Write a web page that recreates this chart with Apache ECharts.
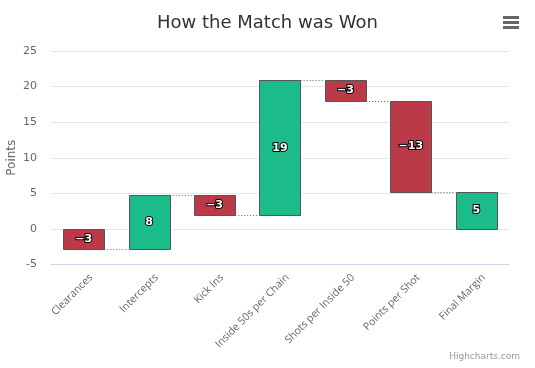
<!DOCTYPE html>
<html>
<head>
<meta charset="utf-8">
<script src="https://cdn.jsdelivr.net/npm/echarts@6/dist/echarts.min.js"></script>
<style>html,body{margin:0;padding:0;background:#fff;}#c{width:535px;height:368px;}</style>
</head>
<body>
<div id="c"></div>
<script>
var categories = ['Clearances', 'Intercepts', 'Kick Ins', 'Inside 50s per Chain', 'Shots per Inside 50', 'Points per Shot', 'Final Margin'];
var changes = [-2.8, 7.6, -2.9, 19.0, -2.9, -12.8, null]; // null = sum column
var yTicks = { min: -5, max: 25, interval: 5 };
var upColor = '#1bbc89';
var downColor = '#bb3a47';
var FONT = '"DejaVu Sans", sans-serif';
var XFONT = '"Open Sans", "DejaVu Sans", sans-serif';

var bases = [], heights = [], signed = [], levels = [];
var running = 0;
for (var i = 0; i < changes.length; i++) {
  var v = changes[i];
  var start, end;
  if (v === null) { start = 0; end = running; v = running; }
  else { start = running; end = running + v; running = end; }
  bases.push(Math.min(start, end));
  heights.push(Math.abs(end - start));
  signed.push(v);
  levels.push(end);
}
var barData = categories.map(function (c, i) {
  var lo = bases[i], hi = bases[i] + heights[i];
  return [i, lo, hi, signed[i]];
});
var connData = [];
for (var j = 0; j < categories.length - 1; j++) connData.push([j, levels[j]]);

var chart = echarts.init(document.getElementById('c'), null, { renderer: 'canvas' });
chart.setOption({
  animation: false,
  backgroundColor: '#ffffff',
  title: {
    text: 'How the Match was Won', left: 'center', top: 9,
    textStyle: { fontFamily: FONT, fontSize: 18, fontWeight: 'normal', color: '#333333' }
  },
  grid: { left: 51, right: 26, top: 51, bottom: 103.5, containLabel: false, outerBoundsMode: 'none' },
  xAxis: {
    type: 'category', data: categories,
    axisLine: { show: true, onZero: false, lineStyle: { color: '#ccd6eb' } },
    axisTick: { show: false },
    axisLabel: { rotate: 45, interval: 0, margin: 4, verticalAlign: 'top', padding: [5, 0, 0, 0],
      color: '#666666', fontSize: 10.5, fontFamily: XFONT }
  },
  yAxis: {
    type: 'value', min: yTicks.min, max: yTicks.max, interval: yTicks.interval,
    name: 'Points', nameLocation: 'middle', nameGap: 33, nameMoveOverlap: false,
    nameTextStyle: { color: '#666666', fontSize: 12, fontFamily: FONT },
    axisLine: { show: false }, axisTick: { show: false },
    axisLabel: { color: '#666666', fontSize: 11, fontFamily: FONT, margin: 14 },
    splitLine: { lineStyle: { color: '#e6e6e6' } }
  },
  series: [
    {
      type: 'custom',
      data: connData,
      z: 1,
      renderItem: function (params, api) {
        var idx = api.value(0), lvl = api.value(1);
        var bw = api.size([1, 0])[0];
        var half = bw * 0.63 / 2;
        var p1 = api.coord([idx, lvl]);
        var p2 = api.coord([idx + 1, lvl]);
        return {
          type: 'line',
          shape: { x1: p1[0] + half, y1: Math.round(p1[1]) + 0.5, x2: p2[0] - half, y2: Math.round(p2[1]) + 0.5 },
          style: { stroke: '#666666', lineWidth: 1, lineDash: [1, 2] }
        };
      }
    },
    {
      type: 'custom',
      data: barData,
      z: 2,
      encode: { x: 0, y: [1, 2] },
      renderItem: function (params, api) {
        var idx = api.value(0), lo = api.value(1), hi = api.value(2), val = api.value(3);
        var bw = api.size([1, 0])[0] * 0.63;
        var pLo = api.coord([idx, lo]);
        var pHi = api.coord([idx, hi]);
        var x = Math.round(pLo[0] - bw / 2) + 0.5;
        var y = Math.round(pHi[1]) + 0.5;
        var h = Math.round(pLo[1]) - Math.round(pHi[1]);
        return {
          type: 'group',
          children: [
            {
              type: 'rect',
              shape: { x: x, y: y, width: Math.round(bw), height: h },
              style: { fill: val >= 0 ? upColor : downColor, stroke: '#555555', lineWidth: 1 }
            },
            {
              type: 'text',
              style: {
                text: String(Math.round(val)).replace('-', '\u2212'),
                x: pLo[0], y: (pLo[1] + pHi[1]) / 2,
                align: 'center', verticalAlign: 'middle',
                fill: '#ffffff', font: 'bold 11px ' + FONT,
                stroke: '#000000', lineWidth: 2
              }
            }
          ]
        };
      }
    }
  ],
  graphic: [
    { type: 'rect', left: 503, top: 16, shape: { width: 16, height: 3 }, style: { fill: '#666666' } },
    { type: 'rect', left: 503, top: 21, shape: { width: 16, height: 3 }, style: { fill: '#666666' } },
    { type: 'rect', left: 503, top: 26, shape: { width: 16, height: 3 }, style: { fill: '#666666' } },
    { type: 'text', right: 15, top: 352, style: { text: 'Highcharts.com', fill: '#999999', font: '9px ' + FONT } }
  ]
});
</script>
</body>
</html>
